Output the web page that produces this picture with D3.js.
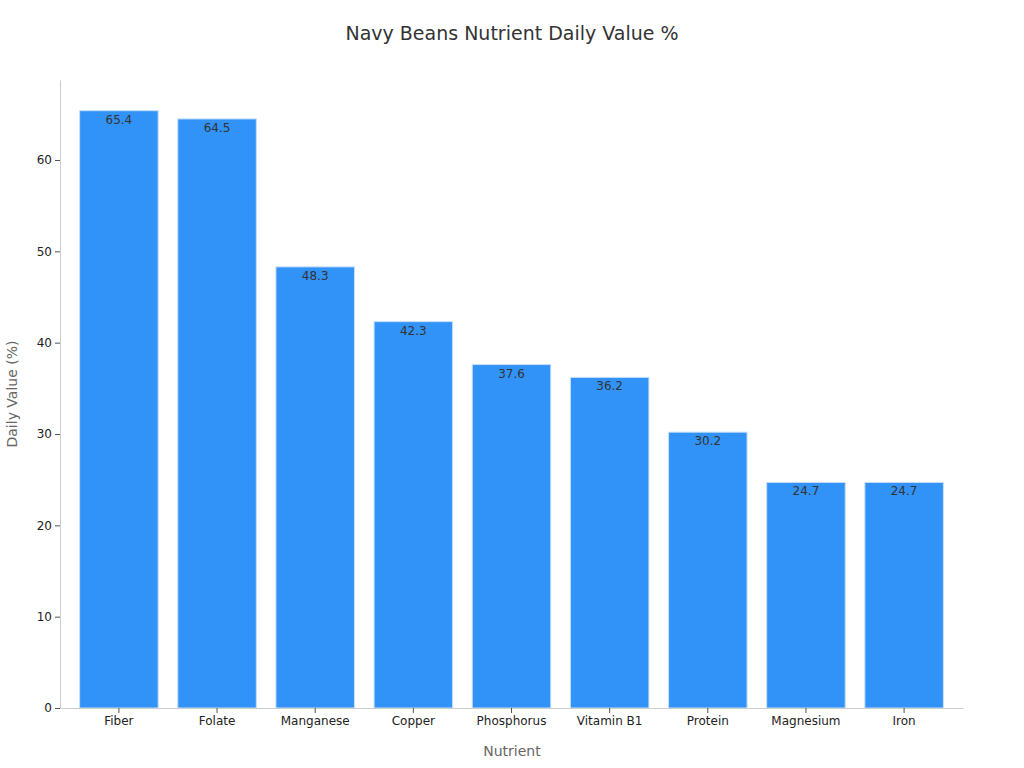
<!DOCTYPE html>
<html><head><meta charset="utf-8">
<script src="https://cdn.jsdelivr.net/npm/d3@7"></script>
<style>body{margin:0;background:#fff;font-family:"DejaVu Sans",sans-serif;}</style>
</head><body><svg id="c" width="1024" height="768"></svg>
<script>
const categories=["Fiber","Folate","Manganese","Copper","Phosphorus","Vitamin B1","Protein","Magnesium","Iron"];
const values=[65.4,64.5,48.3,42.3,37.6,36.2,30.2,24.7,24.7];
const yTicks=[0,10,20,30,40,50,60];
const svg=d3.select("#c");
const m={l:60,r:963,t:80,b:708};
const x=d3.scaleBand().domain(categories).range([m.l,m.r]).padding(0.2);
const y=d3.scaleLinear().domain([0,68.76]).range([m.b,m.t]);
svg.append("text").attr("x",512).attr("y",40).attr("text-anchor","middle").attr("font-size",19).attr("fill","#333").text("Navy Beans Nutrient Daily Value %");
svg.selectAll("rect.b").data(values).enter().append("rect").attr("class","b")
 .attr("x",(d,i)=>x(categories[i])).attr("width",x.bandwidth())
 .attr("y",d=>y(d)).attr("height",d=>y(0)-y(d))
 .attr("fill","#3192f7").attr("stroke","#c8dff8").attr("stroke-width",1);
svg.selectAll("text.v").data(values).enter().append("text").attr("class","v")
 .attr("x",(d,i)=>x(categories[i])+x.bandwidth()/2).attr("y",d=>y(d)+13)
 .attr("text-anchor","middle").attr("font-size",12).attr("fill","#333").text(d=>d.toFixed(1));
const ya=svg.append("g").attr("transform",`translate(${m.l},0)`).call(d3.axisLeft(y).tickValues(yTicks).tickSize(5).tickSizeOuter(0));
const xa=svg.append("g").attr("transform",`translate(0,${m.b})`).call(d3.axisBottom(x).tickSize(5).tickSizeOuter(0));
[ya,xa].forEach(a=>{a.selectAll("path,line").attr("stroke","#ccc");a.selectAll("text").attr("fill","#222").attr("font-size",12).style("font-family","DejaVu Sans");});
ya.selectAll("line").attr("stroke","#555");
xa.selectAll("line").attr("stroke","#555");
svg.append("text").attr("x",512).attr("y",756).attr("text-anchor","middle").attr("font-size",14).attr("fill","#666").text("Nutrient");
svg.append("text").attr("transform","translate(17,394) rotate(-90)").attr("text-anchor","middle").attr("font-size",14).attr("fill","#666").text("Daily Value (%)");
</script></body></html>
